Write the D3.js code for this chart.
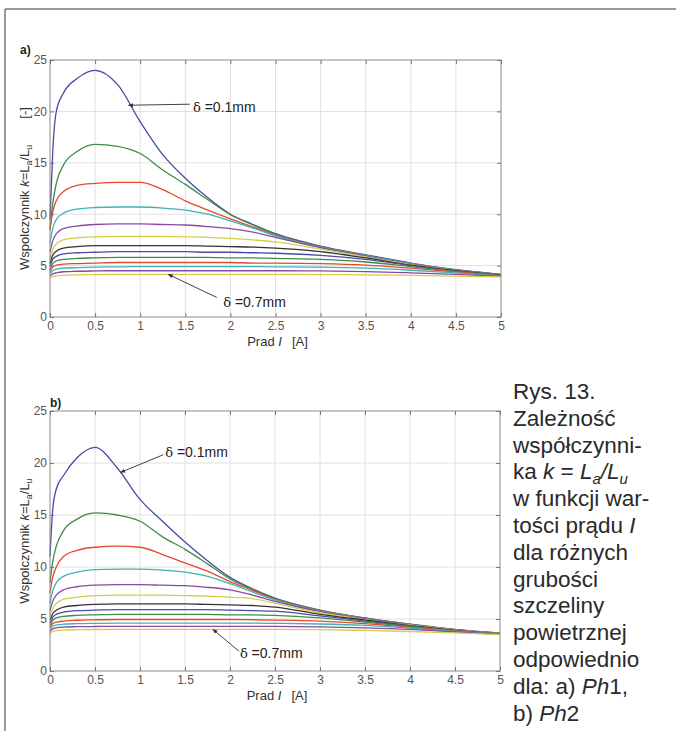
<!DOCTYPE html>
<html>
<head>
<meta charset="utf-8">
<script src="https://cdnjs.cloudflare.com/ajax/libs/d3/7.8.5/d3.min.js"></script>
<style>
body { margin: 0; background: #fff; }
svg { display: block; font-family: "Liberation Sans", Arial, sans-serif; }
</style>
</head>
<body>
<script>
var currentI = [0, 0.03, 0.07, 0.15, 0.3, 0.5, 0.75, 1, 1.25, 1.5, 1.75, 2, 2.25, 2.5, 3, 3.5, 4, 4.5, 5];

// air gap thickness [mm], one curve each
var gaps = [0.1, 0.15, 0.2, 0.25, 0.3, 0.35, 0.4, 0.45, 0.5, 0.55, 0.6, 0.65, 0.7];

// a) Ph1 : k = La/Lu
var ph1_010 = [9.5, 16, 20, 21.8, 23.2, 24.0, 22.6, 19.0, 15.8, 13.5, 11.6, 10.0, 9.0, 8.1, 6.9, 6.05, 5.25, 4.6, 4.15];
var ph1_015 = [8.5, 11, 13, 14.8, 16.1, 16.8, 16.6, 15.9, 14.3, 12.9, 11.4, 9.95, 8.95, 8.05, 6.85, 6.0, 5.2, 4.58, 4.13];
var ph1_020 = [8.5, 10.2, 11.3, 12.2, 12.8, 13.0, 13.1, 13.1, 12.4, 11.3, 10.4, 9.55, 8.75, 7.95, 6.8, 5.95, 5.18, 4.56, 4.12];
var ph1_025 = [7.2, 8.6, 9.5, 10.1, 10.5, 10.65, 10.7, 10.7, 10.6, 10.4, 10.0, 9.35, 8.65, 7.9, 6.8, 5.98, 5.2, 4.57, 4.12];
var ph1_030 = [6.3, 7.4, 8.1, 8.6, 8.85, 9.0, 9.05, 9.05, 9.0, 8.95, 8.8, 8.6, 8.25, 7.75, 6.75, 5.92, 5.15, 4.55, 4.1];
var ph1_035 = [5.7, 6.6, 7.1, 7.5, 7.7, 7.8, 7.85, 7.85, 7.85, 7.8, 7.75, 7.65, 7.5, 7.3, 6.6, 5.85, 5.1, 4.52, 4.08];
var ph1_040 = [5.2, 6.0, 6.4, 6.7, 6.85, 6.95, 6.95, 6.95, 6.95, 6.95, 6.9, 6.85, 6.8, 6.7, 6.35, 5.75, 5.05, 4.5, 4.06];
var ph1_045 = [4.9, 5.6, 5.9, 6.15, 6.25, 6.3, 6.35, 6.35, 6.35, 6.35, 6.3, 6.3, 6.25, 6.2, 6.0, 5.6, 5.0, 4.47, 4.05];
var ph1_050 = [4.6, 5.2, 5.45, 5.6, 5.7, 5.75, 5.8, 5.8, 5.8, 5.8, 5.8, 5.75, 5.75, 5.7, 5.6, 5.35, 4.9, 4.43, 4.03];
var ph1_055 = [4.4, 4.85, 5.05, 5.15, 5.2, 5.25, 5.3, 5.3, 5.3, 5.3, 5.3, 5.3, 5.25, 5.25, 5.2, 5.05, 4.75, 4.38, 4.0];
var ph1_060 = [4.2, 4.5, 4.65, 4.75, 4.8, 4.85, 4.88, 4.9, 4.9, 4.9, 4.9, 4.9, 4.9, 4.88, 4.85, 4.75, 4.55, 4.3, 3.98];
var ph1_065 = [4.0, 4.2, 4.3, 4.4, 4.45, 4.48, 4.5, 4.5, 4.5, 4.5, 4.5, 4.5, 4.5, 4.5, 4.48, 4.42, 4.3, 4.15, 3.95];
var ph1_070 = [3.8, 3.95, 4.0, 4.05, 4.1, 4.12, 4.15, 4.15, 4.15, 4.15, 4.15, 4.15, 4.15, 4.15, 4.13, 4.1, 4.05, 3.98, 3.9];

// b) Ph2 : k = La/Lu
var ph2_010 = [11, 15.5, 17.5, 18.8, 20.5, 21.5, 19.5, 16.5, 14.4, 12.4, 10.6, 9.0, 7.9, 7.0, 5.85, 5.1, 4.5, 4.0, 3.65];
var ph2_015 = [8.5, 10.5, 12, 13.5, 14.6, 15.2, 15.0, 14.4, 12.9, 11.7, 10.3, 8.85, 7.85, 6.95, 5.82, 5.08, 4.48, 3.98, 3.63];
var ph2_020 = [7.5, 9.0, 10.0, 11.0, 11.6, 11.9, 12.0, 11.9, 11.2, 10.4, 9.6, 8.6, 7.75, 6.9, 5.8, 5.06, 4.46, 3.96, 3.62];
var ph2_025 = [6.5, 7.7, 8.5, 9.1, 9.5, 9.75, 9.8, 9.8, 9.7, 9.5, 9.1, 8.4, 7.6, 6.85, 5.75, 5.03, 4.44, 3.94, 3.6];
var ph2_030 = [5.8, 6.7, 7.3, 7.8, 8.1, 8.25, 8.3, 8.3, 8.25, 8.2, 8.05, 7.8, 7.3, 6.7, 5.7, 5.0, 4.42, 3.93, 3.59];
var ph2_035 = [5.3, 6.0, 6.5, 6.9, 7.1, 7.25, 7.3, 7.3, 7.3, 7.25, 7.2, 7.1, 6.95, 6.5, 5.6, 4.95, 4.4, 3.92, 3.58];
var ph2_040 = [4.9, 5.5, 5.85, 6.15, 6.3, 6.4, 6.45, 6.45, 6.45, 6.45, 6.4, 6.35, 6.3, 6.15, 5.45, 4.9, 4.37, 3.9, 3.57];
var ph2_045 = [4.6, 5.15, 5.45, 5.65, 5.8, 5.85, 5.9, 5.9, 5.9, 5.9, 5.9, 5.85, 5.8, 5.75, 5.3, 4.8, 4.33, 3.88, 3.56];
var ph2_050 = [4.4, 4.85, 5.1, 5.25, 5.35, 5.4, 5.45, 5.45, 5.45, 5.45, 5.45, 5.4, 5.4, 5.35, 5.1, 4.7, 4.28, 3.86, 3.55];
var ph2_055 = [4.2, 4.55, 4.7, 4.8, 4.88, 4.92, 4.95, 4.95, 4.95, 4.95, 4.95, 4.95, 4.93, 4.9, 4.8, 4.55, 4.2, 3.84, 3.54];
var ph2_060 = [4.0, 4.3, 4.42, 4.5, 4.55, 4.58, 4.6, 4.6, 4.6, 4.6, 4.6, 4.6, 4.6, 4.58, 4.52, 4.38, 4.12, 3.8, 3.53];
var ph2_065 = [3.8, 4.05, 4.15, 4.22, 4.26, 4.28, 4.3, 4.3, 4.3, 4.3, 4.3, 4.3, 4.3, 4.3, 4.25, 4.15, 4.0, 3.76, 3.52];
var ph2_070 = [3.6, 3.8, 3.88, 3.94, 3.97, 3.99, 4.0, 4.0, 4.0, 4.0, 4.0, 4.0, 4.0, 4.0, 3.98, 3.9, 3.8, 3.66, 3.5];

// axis ticks
var xTicks = [0, 0.5, 1, 1.5, 2, 2.5, 3, 3.5, 4, 4.5, 5];
var xTickLabels = ["0", "0.5", "1", "1.5", "2", "2.5", "3", "3.5", "4", "4.5", "5"];
var yTicks = [0, 5, 10, 15, 20, 25];
var yTickLabels = ["0", "5", "10", "15", "20", "25"];

// arrow notes: label, text pos (I, k), arrow start (I, k), arrow tip (I, k)
var notesPh1 = [
  { text: "0.1mm", tx: 1.585, ty: 19.9, sx: 1.55, sy: 20.7, px: 0.87, py: 20.6 },
  { text: "0.7mm", tx: 1.92, ty: 1.0, sx: 1.85, sy: 1.9, px: 1.31, py: 4.15 }
];
var notesPh2 = [
  { text: "0.1mm", tx: 1.28, ty: 20.6, sx: 1.26, sy: 20.8, px: 0.785, py: 19.1 },
  { text: "0.7mm", tx: 2.11, ty: 1.25, sx: 2.10, sy: 1.9, px: 1.81, py: 4.0 }
];

// caption, one entry per line, segments [text, style]
var captionLines = [
  [["Rys. 13.", ""]],
  [["Zależność", ""]],
  [["współczynni-", ""]],
  [["ka ", ""], ["k", "i"], [" = ", ""], ["L", "i"], ["a", "sub"], ["/", "i"], ["L", "i"], ["u", "sub"]],
  [["w funkcji war-", ""]],
  [["tości prądu ", ""], ["I", "i"]],
  [["dla różnych", ""]],
  [["grubości", ""]],
  [["szczeliny", ""]],
  [["powietrznej", ""]],
  [["odpowiednio", ""]],
  [["dla: a) ", ""], ["Ph", "i"], ["1,", ""]],
  [["b) ", ""], ["Ph", "i"], ["2", ""]]
];

var lineColors = ["#4a4aa8", "#3f8c46", "#e24a2e", "#3fb2b2", "#8a48a2", "#d6cd4c", "#333333"];

var svg = d3.select("body").append("svg")
  .attr("width", 676)
  .attr("height", 731);

// page frame
svg.append("line").attr("x1", 5).attr("x2", 676).attr("y1", 9).attr("y2", 9)
  .attr("stroke", "#777").attr("stroke-width", 1.5);
svg.append("line").attr("x1", 5).attr("x2", 5).attr("y1", 9).attr("y2", 731)
  .attr("stroke", "#777").attr("stroke-width", 1.5);

svg.append("defs").append("marker")
  .attr("id", "tip")
  .attr("viewBox", "0 0 10 10")
  .attr("refX", 9).attr("refY", 5)
  .attr("markerWidth", 5).attr("markerHeight", 5)
  .attr("orient", "auto")
  .append("path").attr("d", "M0,1L10,5L0,9z").attr("fill", "#333");

function drawPanel(p, series, notes, withUnit) {
  var g = svg.append("g");
  var x = d3.scaleLinear().domain([0, 5]).range([p.left, p.right]);
  var y = d3.scaleLinear().domain([0, 25]).range([p.bottom, p.top]);

  // grid
  g.append("g").selectAll("line").data(xTicks.slice(1, -1)).join("line")
    .attr("x1", function (d) { return x(d); }).attr("x2", function (d) { return x(d); })
    .attr("y1", p.top).attr("y2", p.bottom)
    .attr("stroke", "#e0e0e0").attr("stroke-width", 1);
  g.append("g").selectAll("line").data(yTicks.slice(1, -1)).join("line")
    .attr("y1", function (d) { return y(d); }).attr("y2", function (d) { return y(d); })
    .attr("x1", p.left).attr("x2", p.right)
    .attr("stroke", "#e0e0e0").attr("stroke-width", 1);

  // curves
  var line = d3.line()
    .x(function (d, i) { return x(currentI[i]); })
    .y(function (d) { return y(d); })
    .curve(d3.curveMonotoneX);

  g.append("g").selectAll("path").data(series).join("path")
    .attr("d", line)
    .attr("fill", "none")
    .attr("stroke", function (d, i) { return lineColors[i % 7]; })
    .attr("stroke-width", 1.3);

  // box
  g.append("rect")
    .attr("x", p.left).attr("y", p.top)
    .attr("width", p.right - p.left).attr("height", p.bottom - p.top)
    .attr("fill", "none").attr("stroke", "#8a8a8a").attr("stroke-width", 1);

  // axes, ticks pointing inside
  var axB = d3.axisBottom(x).tickValues(xTicks)
    .tickFormat(function (d, i) { return xTickLabels[i]; })
    .tickSizeInner(-4).tickSizeOuter(0).tickPadding(4);
  var axT = d3.axisTop(x).tickValues(xTicks).tickFormat("").tickSizeInner(-4).tickSizeOuter(0);
  var axL = d3.axisLeft(y).tickValues(yTicks)
    .tickFormat(function (d, i) { return yTickLabels[i]; })
    .tickSizeInner(-4).tickSizeOuter(0).tickPadding(3);
  var axR = d3.axisRight(y).tickValues(yTicks).tickFormat("").tickSizeInner(-4).tickSizeOuter(0);

  [[axB, "translate(0," + p.bottom + ")"], [axT, "translate(0," + p.top + ")"],
   [axL, "translate(" + p.left + ",0)"], [axR, "translate(" + p.right + ",0)"]].forEach(function (a) {
    var ax = g.append("g").attr("transform", a[1]).call(a[0]);
    ax.select(".domain").remove();
    ax.selectAll(".tick line").attr("stroke", "#777");
    ax.selectAll(".tick text")
      .attr("fill", "#555")
      .style("font-size", "12px")
      .style("font-family", "'Liberation Sans', Arial, sans-serif");
  });

  // axis titles
  var xt = g.append("text")
    .attr("x", (p.left + p.right) / 2 + 2).attr("y", p.bottom + 29)
    .attr("text-anchor", "middle")
    .attr("fill", "#333").style("font-size", "13px");
  xt.append("tspan").text("Prad ");
  xt.append("tspan").style("font-style", "italic").text("I");
  xt.append("tspan").attr("dx", 10).text("[A]");

  var yt = g.append("text")
    .attr("transform", "translate(" + 29 + "," + ((p.top + p.bottom) / 2) + ") rotate(-90)")
    .attr("text-anchor", "middle")
    .attr("fill", "#333").style("font-size", "13px");
  yt.append("tspan").text("Wspolczynnik ");
  yt.append("tspan").style("font-style", "italic").text("k");
  yt.append("tspan").text("=L");
  yt.append("tspan").attr("dy", 3).style("font-size", "9px").text("a");
  yt.append("tspan").attr("dy", -3).text("/L");
  yt.append("tspan").attr("dy", 3).style("font-size", "9px").text("u");
  if (withUnit) {
    yt.append("tspan").attr("dy", -3).attr("dx", 26).text("[-]");
  }

  // panel tag
  g.append("text")
    .attr("x", p.tagX).attr("y", p.tagY)
    .attr("fill", "#222").style("font-size", "12px").style("font-weight", "bold")
    .text(p.tag);

  // notes with arrows
  notes.forEach(function (n) {
    g.append("line")
      .attr("x1", x(n.sx)).attr("y1", y(n.sy))
      .attr("x2", x(n.px)).attr("y2", y(n.py))
      .attr("stroke", "#444").attr("stroke-width", 1)
      .attr("marker-end", "url(#tip)");
    var t = g.append("text")
      .attr("x", x(n.tx)).attr("y", y(n.ty))
      .attr("fill", "#222").style("font-size", "14px");
    t.append("tspan").style("font-family", "'DejaVu Serif', serif").style("font-size", "13px").text("δ");
    t.append("tspan").text(" =" + n.text);
  });
}

drawPanel({ left: 50, right: 501, top: 60, bottom: 317, tag: "a)", tagX: 20, tagY: 54 },
  [ph1_010, ph1_015, ph1_020, ph1_025, ph1_030, ph1_035, ph1_040,
   ph1_045, ph1_050, ph1_055, ph1_060, ph1_065, ph1_070], notesPh1, true);

drawPanel({ left: 50, right: 500, top: 411, bottom: 671, tag: "b)", tagX: 50, tagY: 407 },
  [ph2_010, ph2_015, ph2_020, ph2_025, ph2_030, ph2_035, ph2_040,
   ph2_045, ph2_050, ph2_055, ph2_060, ph2_065, ph2_070], notesPh2, false);

// caption
var cap = svg.append("text")
  .attr("fill", "#2a2a2a")
  .style("font-size", "22.5px");

captionLines.forEach(function (segs, li) {
  var shifted = false;
  segs.forEach(function (s, si) {
    var ts = cap.append("tspan").text(s[0]);
    if (si === 0) {
      ts.attr("x", 513).attr("y", 399 + li * 26.8);
    }
    if (s[1] === "i" || s[1] === "sub") ts.style("font-style", "italic");
    if (s[1] === "sub") {
      ts.style("font-size", "15px");
      if (!shifted) { ts.attr("dy", 5); shifted = true; }
    } else if (shifted) {
      ts.attr("dy", -5); shifted = false;
    }
  });
});
</script>
</body>
</html>
